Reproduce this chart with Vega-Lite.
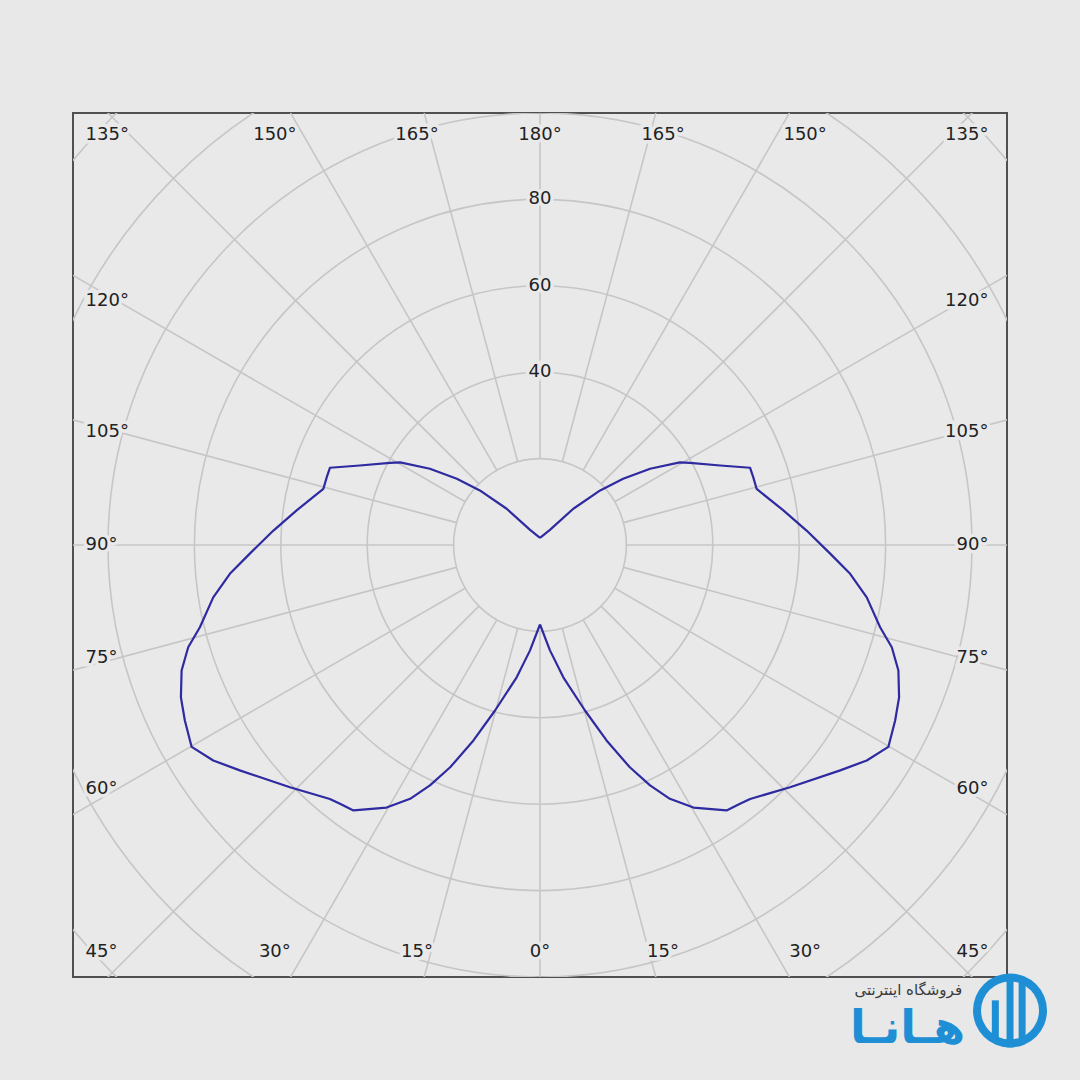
{
  "$schema": "https://vega.github.io/schema/vega-lite/v6.json",
  "width": 934,
  "height": 864,
  "autosize": {"type": "none"},
  "padding": {"left": 73, "top": 113, "right": 73, "bottom": 103},
  "background": "#e8e8e8",
  "config": {"view": {"stroke": "#505050", "strokeWidth": 2, "fill": "#e9e9e9"}, "font": "DejaVu Sans"},
  "datasets": {
    "rings": [{"r": 20}, {"r": 40}, {"r": 60}, {"r": 80}, {"r": 100}, {"r": 120}, {"r": 140}],
    "spokes": [{"a": 0}, {"a": 15}, {"a": 30}, {"a": 45}, {"a": 60}, {"a": 75}, {"a": 90}, {"a": 105}, {"a": 120}, {"a": 135}, {"a": 150}, {"a": 165}, {"a": 180}, {"a": 195}, {"a": 210}, {"a": 225}, {"a": 240}, {"a": 255}, {"a": 270}, {"a": 285}, {"a": 300}, {"a": 315}, {"a": 330}, {"a": 345}],
    "anglabels": [
      {"g": 0, "s": 1, "t": "0°"},
      {"g": 15, "s": -1, "t": "15°"}, {"g": 15, "s": 1, "t": "15°"},
      {"g": 30, "s": -1, "t": "30°"}, {"g": 30, "s": 1, "t": "30°"},
      {"g": 45, "s": -1, "t": "45°"}, {"g": 45, "s": 1, "t": "45°"},
      {"g": 60, "s": -1, "t": "60°"}, {"g": 60, "s": 1, "t": "60°"},
      {"g": 75, "s": -1, "t": "75°"}, {"g": 75, "s": 1, "t": "75°"},
      {"g": 90, "s": -1, "t": "90°"}, {"g": 90, "s": 1, "t": "90°"},
      {"g": 105, "s": -1, "t": "105°"}, {"g": 105, "s": 1, "t": "105°"},
      {"g": 120, "s": -1, "t": "120°"}, {"g": 120, "s": 1, "t": "120°"},
      {"g": 135, "s": -1, "t": "135°"}, {"g": 135, "s": 1, "t": "135°"},
      {"g": 150, "s": -1, "t": "150°"}, {"g": 150, "s": 1, "t": "150°"},
      {"g": 165, "s": -1, "t": "165°"}, {"g": 165, "s": 1, "t": "165°"},
      {"g": 180, "s": 1, "t": "180°"}
    ],
    "vals": [{"v": 40}, {"v": 60}, {"v": 80}],
    "logobars": [
      {"bx": 108.8, "b1": -99.7, "b2": -116.3},
      {"bx": 105.4, "b1": -105.4, "b2": -114.2},
      {"bx": 111.6, "b1": -101.3, "b2": -114.7}
    ],
    "curve": [
      {"g": 0, "I": 18.4}, {"g": 5.4, "I": 24.5}, {"g": 10, "I": 31.1}, {"g": 15.2, "I": 39.7},
      {"g": 18.8, "I": 47.8}, {"g": 22, "I": 55.5}, {"g": 24.6, "I": 61.2}, {"g": 27.1, "I": 66.0},
      {"g": 30.3, "I": 70.4}, {"g": 35.1, "I": 75.1}, {"g": 37.7, "I": 75.7}, {"g": 39.6, "I": 76.3},
      {"g": 45.9, "I": 80.6}, {"g": 53.1, "I": 86.9}, {"g": 56.6, "I": 90.6}, {"g": 59.9, "I": 93.2},
      {"g": 63.7, "I": 91.7}, {"g": 67, "I": 90.3}, {"g": 70.7, "I": 87.9}, {"g": 73.8, "I": 84.8},
      {"g": 76.4, "I": 81.0}, {"g": 80.9, "I": 76.6}, {"g": 84.7, "I": 72.1}, {"g": 88.3, "I": 67.2},
      {"g": 93.1, "I": 61.8}, {"g": 98.1, "I": 56.9}, {"g": 104.5, "I": 51.8}, {"g": 107.6, "I": 51.8},
      {"g": 110.2, "I": 51.8}, {"g": 113.8, "I": 45.6}, {"g": 118.7, "I": 39.6}, {"g": 120.6, "I": 37.6},
      {"g": 124.7, "I": 31.0}, {"g": 128.5, "I": 24.6}, {"g": 132.2, "I": 18.8}, {"g": 137.4, "I": 11.4},
      {"g": 146.8, "I": 4.2}, {"g": 180, "I": 1.67}
    ]
  },
  "layer": [
    {
      "data": {"name": "rings"},
      "mark": {"type": "arc", "theta": 0, "theta2": 6.2832, "filled": false, "stroke": "#c6c6c6", "strokeWidth": 1.6, "clip": true},
      "encoding": {
        "radius": {"field": "r", "type": "quantitative", "stack": null, "scale": {"type": "linear", "domain": [0, 100], "range": [0, 432], "zero": true}}
      }
    },
    {
      "data": {"name": "spokes"},
      "transform": [
        {"calculate": "datum.a*PI/180", "as": "rad"},
        {"calculate": "20*sin(datum.rad)", "as": "x1"},
        {"calculate": "-20*cos(datum.rad)", "as": "y1"},
        {"calculate": "170*sin(datum.rad)", "as": "xe"},
        {"calculate": "-170*cos(datum.rad)", "as": "ye"}
      ],
      "mark": {"type": "rule", "stroke": "#c6c6c6", "strokeWidth": 1.6, "clip": true},
      "encoding": {
        "x": {"field": "x1", "type": "quantitative", "scale": {"domain": [-108.1, 108.1], "nice": false, "zero": false}, "axis": null},
        "y": {"field": "y1", "type": "quantitative", "scale": {"domain": [-100, 100], "nice": false, "zero": false}, "axis": null},
        "x2": {"field": "xe"},
        "y2": {"field": "ye"}
      }
    },
    {
      "data": {"name": "anglabels"},
      "transform": [
        {"calculate": "datum.g*PI/180", "as": "rad"},
        {"calculate": "datum.g>=45 && datum.g<=135 ? (datum.s<0 ? -105.2 : 103.8) : datum.s*106.3*abs(tan(datum.rad))", "as": "lx"},
        {"calculate": "datum.g>=45 && datum.g<=135 ? clamp(-98*cos(datum.rad)/sin(datum.rad), -94.3, 94.8) : (datum.g>90 ? 94.8 : -94.3)", "as": "ly"},
        {"calculate": "datum.g>=45 && datum.g<=135 ? (datum.s<0 ? 'L' : 'R') : 'C'", "as": "al"}
      ],
      "encoding": {
        "x": {"field": "lx", "type": "quantitative", "scale": {"domain": [-108.1, 108.1], "nice": false, "zero": false}, "axis": null},
        "y": {"field": "ly", "type": "quantitative", "scale": {"domain": [-100, 100], "nice": false, "zero": false}, "axis": null},
        "text": {"field": "t"}
      },
      "layer": [
        {"transform": [{"filter": "datum.al=='L'"}], "mark": {"type": "text", "align": "left", "baseline": "middle", "fontSize": 18, "fill": "#e9e9e9", "stroke": "#e9e9e9", "strokeWidth": 7}},
        {"transform": [{"filter": "datum.al=='R'"}], "mark": {"type": "text", "align": "right", "baseline": "middle", "fontSize": 18, "fill": "#e9e9e9", "stroke": "#e9e9e9", "strokeWidth": 7}},
        {"transform": [{"filter": "datum.al=='C'"}], "mark": {"type": "text", "align": "center", "baseline": "middle", "fontSize": 18, "fill": "#e9e9e9", "stroke": "#e9e9e9", "strokeWidth": 7}},
        {"transform": [{"filter": "datum.al=='L'"}], "mark": {"type": "text", "align": "left", "baseline": "middle", "fontSize": 18, "fill": "#222222"}},
        {"transform": [{"filter": "datum.al=='R'"}], "mark": {"type": "text", "align": "right", "baseline": "middle", "fontSize": 18, "fill": "#222222"}},
        {"transform": [{"filter": "datum.al=='C'"}], "mark": {"type": "text", "align": "center", "baseline": "middle", "fontSize": 18, "fill": "#222222"}}
      ]
    },
    {
      "data": {"name": "vals"},
      "encoding": {
        "x": {"datum": 0, "type": "quantitative", "scale": {"domain": [-108.1, 108.1], "nice": false, "zero": false}, "axis": null},
        "y": {"field": "v", "type": "quantitative", "scale": {"domain": [-100, 100], "nice": false, "zero": false}, "axis": null},
        "text": {"field": "v"}
      },
      "layer": [
        {"mark": {"type": "text", "align": "center", "baseline": "middle", "fontSize": 18, "fill": "#e9e9e9", "stroke": "#e9e9e9", "strokeWidth": 7}},
        {"mark": {"type": "text", "align": "center", "baseline": "middle", "fontSize": 18, "fill": "#222222"}}
      ]
    },
    {
      "data": {"name": "curve"},
      "transform": [
        {"calculate": "datum.g*PI/180", "as": "rad"},
        {"calculate": "datum.I*sin(datum.rad)", "as": "xr"},
        {"calculate": "-datum.I*sin(datum.rad)", "as": "xl"},
        {"calculate": "-datum.I*cos(datum.rad)", "as": "yy"}
      ],
      "layer": [
        {
          "mark": {"type": "line", "stroke": "#2e2aa0", "strokeWidth": 2.2, "strokeJoin": "round"},
          "encoding": {
            "x": {"field": "xr", "type": "quantitative", "scale": {"domain": [-108.1, 108.1], "nice": false, "zero": false}, "axis": null},
            "y": {"field": "yy", "type": "quantitative", "scale": {"domain": [-100, 100], "nice": false, "zero": false}, "axis": null},
            "order": {"field": "g", "type": "quantitative"}
          }
        },
        {
          "mark": {"type": "line", "stroke": "#2e2aa0", "strokeWidth": 2.2, "strokeJoin": "round"},
          "encoding": {
            "x": {"field": "xl", "type": "quantitative", "scale": {"domain": [-108.1, 108.1], "nice": false, "zero": false}, "axis": null},
            "y": {"field": "yy", "type": "quantitative", "scale": {"domain": [-100, 100], "nice": false, "zero": false}, "axis": null},
            "order": {"field": "g", "type": "quantitative"}
          }
        }
      ]
    },
    {
      "data": {"values": [{"t": "فروشگاه اینترنتی"}]},
      "mark": {"type": "text", "align": "right", "baseline": "middle", "fontSize": 15, "fill": "#3a3a3a"},
      "encoding": {
        "text": {"field": "t"},
        "x": {"datum": 97.7, "type": "quantitative", "scale": {"domain": [-108.1, 108.1], "nice": false, "zero": false}, "axis": null},
        "y": {"datum": -103.1, "type": "quantitative", "scale": {"domain": [-100, 100], "nice": false, "zero": false}, "axis": null}
      }
    },
    {
      "data": {"values": [{"t": "هـانـا"}]},
      "mark": {"type": "text", "align": "right", "baseline": "middle", "fontSize": 46, "fontWeight": "bold", "fill": "#1e8fd5"},
      "encoding": {
        "text": {"field": "t"},
        "x": {"datum": 98.4, "type": "quantitative", "scale": {"domain": [-108.1, 108.1], "nice": false, "zero": false}, "axis": null},
        "y": {"datum": -112.0, "type": "quantitative", "scale": {"domain": [-100, 100], "nice": false, "zero": false}, "axis": null}
      }
    },
    {
      "data": {"values": [{"k": 1}]},
      "mark": {"type": "arc", "theta": 0, "theta2": 6.2832, "radius": 37, "radius2": 29, "fill": "#1e8fd5"},
      "encoding": {
        "x": {"datum": 108.8, "type": "quantitative", "scale": {"domain": [-108.1, 108.1], "nice": false, "zero": false}, "axis": null},
        "y": {"datum": -107.75, "type": "quantitative", "scale": {"domain": [-100, 100], "nice": false, "zero": false}, "axis": null}
      }
    },
    {
      "data": {"name": "logobars"},
      "mark": {"type": "rule", "stroke": "#1e8fd5", "strokeWidth": 7},
      "encoding": {
        "x": {"field": "bx", "type": "quantitative", "scale": {"domain": [-108.1, 108.1], "nice": false, "zero": false}, "axis": null},
        "y": {"field": "b1", "type": "quantitative", "scale": {"domain": [-100, 100], "nice": false, "zero": false}, "axis": null},
        "y2": {"field": "b2"}
      }
    }
  ]
}
